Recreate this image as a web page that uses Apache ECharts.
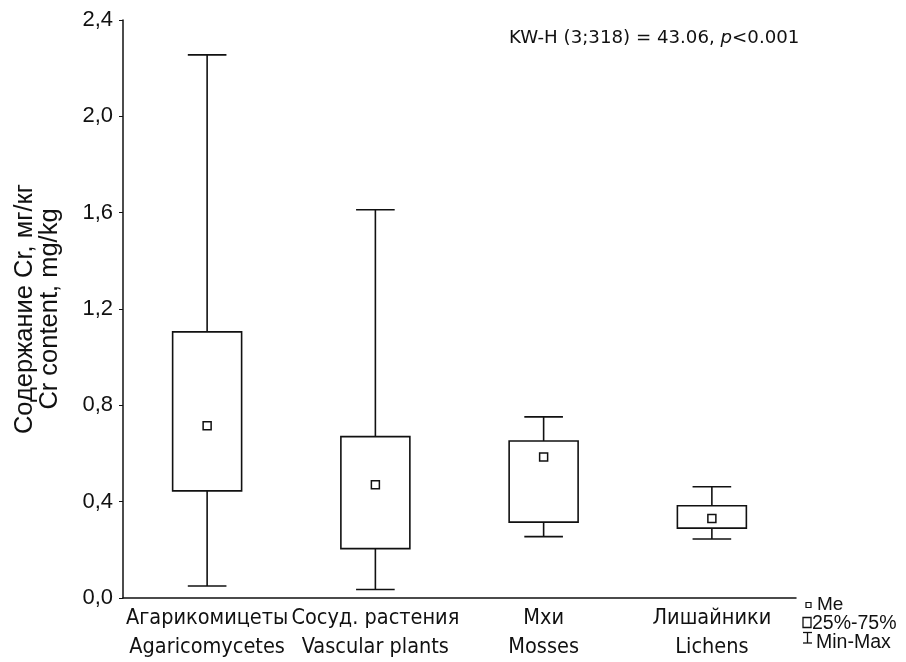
<!DOCTYPE html>
<html><head><meta charset="utf-8">
<script src="https://cdn.jsdelivr.net/npm/echarts@6/dist/echarts.min.js"></script>
<style>html,body{margin:0;padding:0;background:#fff}#c{width:906px;height:662px}</style>
</head><body><div id="c"></div>
<script>
const categories = ['Агарикомицеты\nAgaricomycetes','Сосуд. растения\nVascular plants','Мхи\nMosses','Лишайники\nLichens'];
const minVals    = [0.05, 0.035, 0.255, 0.245];
const q1Vals     = [0.445, 0.205, 0.315, 0.29];
const medianVals = [0.715, 0.47, 0.585, 0.33];
const q3Vals     = [1.105, 0.67, 0.652, 0.383];
const maxVals    = [2.255, 1.612, 0.752, 0.462];
const yTicks = [0, 0.4, 0.8, 1.2, 1.6, 2.0, 2.4];

const data = categories.map((c,i)=>[i, minVals[i], q1Vals[i], medianVals[i], q3Vals[i], maxVals[i]]);
const chart = echarts.init(document.getElementById('c'));
const lab = "'Liberation Sans', Arial, sans-serif";
const tah = "'DejaVu Sans Condensed', 'DejaVu Sans', sans-serif";
chart.setOption({
  animation:false,
  backgroundColor:'#fff',
  grid:{left:123,right:110,top:20,bottom:64,containLabel:false,outerBoundsMode:'none'},
  xAxis:{type:'category',data:categories,
    axisLine:{lineStyle:{color:'#111',width:1.5}},
    axisTick:{alignWithLabel:true,length:4,lineStyle:{color:'#111'}},
    axisLabel:{color:'#111',fontFamily:tah,fontSize:21.5,lineHeight:29,margin:6,interval:0}},
  yAxis:{type:'value',min:yTicks[0],max:yTicks[yTicks.length-1],interval:0.4,
    name:'Содержание Cr, мг/кг\nCr content, mg/kg',nameLocation:'middle',nameGap:61,nameRotate:90,
    nameTextStyle:{color:'#111',fontFamily:lab,fontSize:25.5,lineHeight:25},
    axisLine:{show:true,lineStyle:{color:'#111',width:1.5}},
    axisTick:{show:true,length:4,lineStyle:{color:'#111'}},
    splitLine:{show:false},
    axisLabel:{color:'#111',fontFamily:lab,fontSize:22,margin:10,
      formatter:v=>v.toFixed(1).replace('.',',')}},
  series:[{type:'custom',data:data,
    renderItem:function(params,api){
      const x = api.value(0);
      const pMin = api.coord([x, api.value(1)]);
      const pQ1 = api.coord([x, api.value(2)]);
      const pMed = api.coord([x, api.value(3)]);
      const pQ3 = api.coord([x, api.value(4)]);
      const pMax = api.coord([x, api.value(5)]);
      const bw = api.size([1,0])[0]*0.41;
      const cw = bw*0.56;
      const cx = pMed[0];
      const st = {stroke:'#111',lineWidth:1.6,fill:null};
      return {type:'group',children:[
        {type:'line',shape:{x1:cx,y1:pMax[1],x2:cx,y2:pQ3[1]},style:st},
        {type:'line',shape:{x1:cx,y1:pQ1[1],x2:cx,y2:pMin[1]},style:st},
        {type:'line',shape:{x1:cx-cw/2,y1:pMax[1],x2:cx+cw/2,y2:pMax[1]},style:st},
        {type:'line',shape:{x1:cx-cw/2,y1:pMin[1],x2:cx+cw/2,y2:pMin[1]},style:st},
        {type:'rect',shape:{x:cx-bw/2,y:pQ3[1],width:bw,height:pQ1[1]-pQ3[1]},style:{stroke:'#111',lineWidth:1.6,fill:'#fff'}},
        {type:'rect',shape:{x:cx-4,y:pMed[1]-4,width:8,height:8},style:{stroke:'#111',lineWidth:1.5,fill:'#fff'}}
      ]};
    }}],
  graphic:[
    {type:'text',left:509,top:29,style:{text:'{a|KW-H (3;318) = 43.06, }{b|p}{a|<0.001}',
      rich:{a:{fontFamily:"'DejaVu Sans', sans-serif",fontSize:18.2,fill:'#111'},b:{fontFamily:"'DejaVu Sans', sans-serif",fontSize:18.2,fontStyle:'italic',fill:'#111'}}}},
    {type:'rect',shape:{x:806,y:602.5,width:5,height:5},style:{stroke:'#111',lineWidth:1.2,fill:'#fff'}},
    {type:'text',x:817,y:605,style:{text:'Me',fontFamily:lab,fontSize:19,fill:'#111',verticalAlign:'middle'}},
    {type:'rect',shape:{x:803,y:617.5,width:8,height:10},style:{stroke:'#111',lineWidth:1.3,fill:'#fff'}},
    {type:'text',x:812,y:624,style:{text:'25%-75%',fontFamily:lab,fontSize:19.5,fill:'#111',verticalAlign:'middle'}},
    {type:'line',shape:{x1:803,y1:632.5,x2:812,y2:632.5},style:{stroke:'#111',lineWidth:1.3}},
    {type:'line',shape:{x1:807.5,y1:632.5,x2:807.5,y2:643},style:{stroke:'#111',lineWidth:1.3}},
    {type:'line',shape:{x1:803,y1:643,x2:812,y2:643},style:{stroke:'#111',lineWidth:1.3}},
    {type:'text',x:816,y:643,style:{text:'Min-Max',fontFamily:lab,fontSize:19.5,fill:'#111',verticalAlign:'middle'}}
  ]
});
</script></body></html>
